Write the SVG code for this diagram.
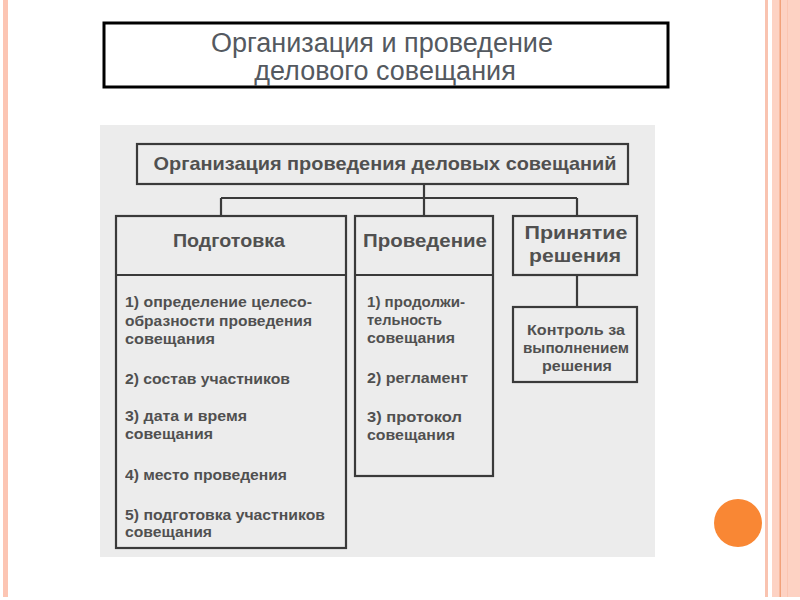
<svg xmlns="http://www.w3.org/2000/svg" width="800" height="600" viewBox="0 0 800 600">
<defs>
<style>
.box{fill:none;stroke:#3a3a3a;stroke-width:2.2}
.ln{fill:none;stroke:#3a3a3a;stroke-width:2.2}
.t{font-family:"Liberation Sans",Arial,sans-serif;fill:#2e2e2e;font-weight:bold;opacity:0.82}
.h{font-size:19px;text-anchor:middle}
.l{font-size:15px}
.c{font-size:14px;text-anchor:middle}
.title{font-family:"Liberation Sans",Arial,sans-serif;font-size:27px;fill:#545960;text-anchor:middle}
</style>
</defs>
<rect width="800" height="600" fill="#ffffff"/>
<rect x="3" y="0" width="5" height="597" fill="#fcc5b3"/>
<rect x="765" y="0" width="3" height="597" fill="#f9c3b0"/>
<rect x="772" y="0" width="28" height="597" fill="#fdd2c3"/>
<rect x="779.5" y="0" width="1.5" height="597" fill="#f2a27a"/>
<rect x="787" y="0" width="1" height="597" fill="#fbc6b2"/>
<circle cx="738" cy="523" r="24" fill="#f98734"/>
<g id="title">
<rect x="104" y="23" width="564" height="64" fill="#ffffff" stroke="#000000" stroke-width="3"/>
<text class="title" x="382" y="52">Организация и проведение</text>
<text class="title" x="385" y="80">делового совещания</text>
</g>
<rect x="100" y="125" width="555" height="432" fill="#ececec"/>
<g id="connectors">
<path class="ln" d="M424 184 V216 M221 198 H577 M221 198 V216 M577 198 V216 M577 275 V307"/>
</g>
<g id="root">
<rect class="box" x="137" y="144" width="491" height="40" fill="#f0f0f0"/>
<text class="t h" x="385" y="170" textLength="463" lengthAdjust="spacingAndGlyphs">Организация проведения деловых совещаний</text>
</g>
<g id="prep">
<rect class="box" x="116" y="216" width="230" height="332"/>
<line class="ln" x1="116" y1="275" x2="346" y2="275"/>
<text class="t h" x="229" y="247" textLength="112" lengthAdjust="spacingAndGlyphs">Подготовка</text>
<text class="t l" x="125" y="307" textLength="187" lengthAdjust="spacingAndGlyphs">1) определение целесо-</text>
<text class="t l" x="125" y="326" textLength="187" lengthAdjust="spacingAndGlyphs">образности проведения</text>
<text class="t l" x="125" y="344" textLength="90" lengthAdjust="spacingAndGlyphs">совещания</text>
<text class="t l" x="125" y="384" textLength="165" lengthAdjust="spacingAndGlyphs">2) состав участников</text>
<text class="t l" x="125" y="421" textLength="122" lengthAdjust="spacingAndGlyphs">3) дата и время</text>
<text class="t l" x="125" y="439" textLength="88" lengthAdjust="spacingAndGlyphs">совещания</text>
<text class="t l" x="125" y="480" textLength="162" lengthAdjust="spacingAndGlyphs">4) место проведения</text>
<text class="t l" x="125" y="520" textLength="200" lengthAdjust="spacingAndGlyphs">5) подготовка участников</text>
<text class="t l" x="125" y="537" textLength="87" lengthAdjust="spacingAndGlyphs">совещания</text>
</g>
<g id="conduct">
<rect class="box" x="355" y="216" width="138" height="260"/>
<line class="ln" x1="355" y1="275" x2="493" y2="275"/>
<text class="t h" x="425" y="247" textLength="124" lengthAdjust="spacingAndGlyphs">Проведение</text>
<text class="t l" x="367" y="307" textLength="98" lengthAdjust="spacingAndGlyphs">1) продолжи-</text>
<text class="t l" x="367" y="325" textLength="75" lengthAdjust="spacingAndGlyphs">тельность</text>
<text class="t l" x="367" y="343" textLength="88" lengthAdjust="spacingAndGlyphs">совещания</text>
<text class="t l" x="367" y="383" textLength="101" lengthAdjust="spacingAndGlyphs">2) регламент</text>
<text class="t l" x="367" y="422" textLength="95" lengthAdjust="spacingAndGlyphs">3) протокол</text>
<text class="t l" x="367" y="440" textLength="88" lengthAdjust="spacingAndGlyphs">совещания</text>
</g>
<g id="decision">
<rect class="box" x="513" y="216" width="124" height="59"/>
<text class="t h" x="576" y="239" textLength="103" lengthAdjust="spacingAndGlyphs">Принятие</text>
<text class="t h" x="575" y="262" textLength="92" lengthAdjust="spacingAndGlyphs">решения</text>
</g>
<g id="control">
<rect class="box" x="513" y="307" width="124" height="75"/>
<text class="t c" x="576" y="335" textLength="98" lengthAdjust="spacingAndGlyphs">Контроль за</text>
<text class="t c" x="576" y="353" textLength="106" lengthAdjust="spacingAndGlyphs">выполнением</text>
<text class="t c" x="577" y="371" textLength="70" lengthAdjust="spacingAndGlyphs">решения</text>
</g>
</svg>
